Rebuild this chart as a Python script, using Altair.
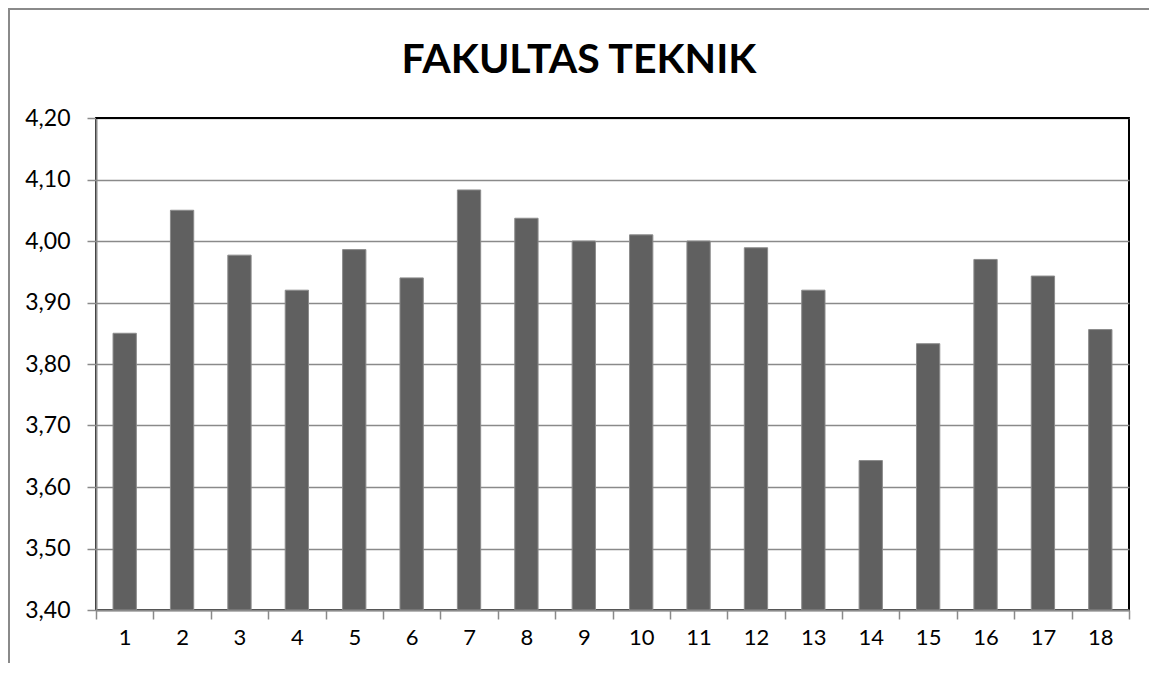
import altair as alt
import pandas as pd

# ---- data ----
categories = [str(i) for i in range(1, 19)]
values = [3.850, 4.050, 3.977, 3.920, 3.986, 3.940, 4.083, 4.037, 4.000,
          4.010, 4.000, 3.989, 3.920, 3.643, 3.833, 3.970, 3.943, 3.856]
y_ticks = [3.4, 3.5, 3.6, 3.7, 3.8, 3.9, 4.0, 4.1, 4.2]
title_text = "FAKULTAS TEKNIK"

df = pd.DataFrame({"kategori": categories, "nilai": values})
one = pd.DataFrame({"t": [title_text]})

W, H = 1033, 492
FONT = "Lato"
GRAY = "#8a8a8a"

bars = alt.Chart(df).mark_bar(
    color="#606060", stroke="#8c8c8c", strokeWidth=1,
    width=alt.RelativeBandSize(0.406),
).encode(
    x=alt.X(
        "kategori:N",
        sort=categories,
        scale=alt.Scale(paddingInner=0, paddingOuter=0),
        axis=alt.Axis(
            title=None, labelAngle=0, tickBand="extent", grid=False,
            tickSize=9, labelPadding=8, labelFontSize=22,
            domainColor=GRAY, domainWidth=2, tickColor=GRAY, tickWidth=1.5,
        ),
    ),
    y=alt.Y(
        "nilai:Q",
        scale=alt.Scale(domain=[3.4, 4.2], zero=False, nice=False),
        axis=alt.Axis(
            title=None, values=y_ticks,
            labelExpr="replace(format(datum.value, '.2f'), '.', ',')",
            tickSize=9, labelPadding=17, labelFontSize=23,
            grid=True, gridColor=GRAY, gridWidth=1.5,
            domainColor=GRAY, domainWidth=2, tickColor=GRAY, tickWidth=1.5,
        ),
    ),
    y2=alt.datum(3.4),
)

top_line = alt.Chart(one).mark_rule(color="#000000", strokeWidth=2).encode(
    y=alt.datum(4.2), x=alt.value(0), x2=alt.value(W)
)

# outer chart-area border (only its left and top edges are inside the picture)
frame_left = alt.Chart(one).mark_rule(color=GRAY, strokeWidth=2).encode(
    x=alt.value(-87), y=alt.value(-110), y2=alt.value(900)
)
frame_top = alt.Chart(one).mark_rule(color=GRAY, strokeWidth=2).encode(
    y=alt.value(-109), x=alt.value(-88), x2=alt.value(1400)
)

title = alt.Chart(one).mark_text(
    font=FONT, fontSize=41, fontWeight="bold", color="#000000",
    align="center", baseline="alphabetic",
).encode(text="t:N", x=alt.value(483), y=alt.value(-45))

chart = alt.layer(frame_left, frame_top, bars, top_line, title).properties(
    width=W, height=H,
    autosize=alt.AutoSizeParams(type="none"),
    padding={"left": 88, "top": 110, "right": 20, "bottom": 53},
).configure_view(
    stroke="#000000", strokeWidth=2
).configure_axis(
    labelFont=FONT, labelColor="#000000"
)

chart.save("out.html", embed_options={"renderer": "svg", "actions": False})
